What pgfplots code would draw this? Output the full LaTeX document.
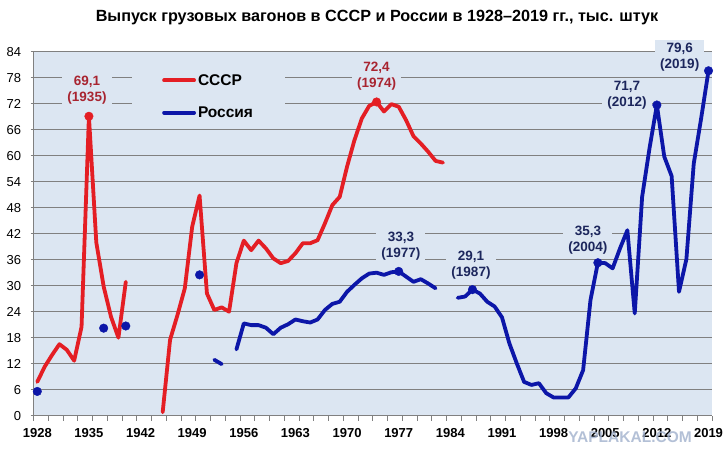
\documentclass[border=0pt]{standalone}
\usepackage{fontspec}
\setmainfont{Liberation Sans}
\usepackage{pgfplots}
\usepackage{pgfplotstable}
\pgfplotsset{compat=1.18}
\definecolor{plotbg}{RGB}{220,230,242}
\definecolor{ussr}{RGB}{228,30,36}
\definecolor{rus}{RGB}{12,22,168}
\definecolor{annred}{RGB}{168,36,48}
\definecolor{annblue}{RGB}{28,38,92}
\definecolor{gridc}{RGB}{128,128,128}
\definecolor{wm}{RGB}{160,176,204}

\pgfplotstableread{
year val
1928 7.8
1929 11.3
1930 14.0
1931 16.5
1932 15.2
1933 12.7
1934 20.5
1935 69.1
1936 40.0
1937 29.8
1938 22.8
1939 18.0
1940 30.9
1942 nan
1945 0.8
1946 17.5
1947 23.2
1948 29.4
1949 43.6
1950 50.8
1951 28.2
1952 24.4
1953 25.0
1954 24.0
1955 35.2
1956 40.4
1957 38.2
1958 40.4
1959 38.6
1960 36.3
1961 35.2
1962 35.7
1963 37.5
1964 39.8
1965 39.8
1966 40.5
1967 44.4
1968 48.6
1969 50.5
1970 57.5
1971 63.6
1972 68.6
1973 71.5
1974 72.4
1975 70.2
1976 71.9
1977 71.3
1978 68.2
1979 64.5
1980 62.8
1981 60.9
1982 58.8
1983 58.4
}\ussrtab

\pgfplotstableread{
year val
1928 5.6
1929 nan
1937 20.2
1938 nan
1940 20.7
1941 nan
1950 32.5
1951 nan
1952 12.9
1953 11.9
1954 nan
1955 15.3
1956 21.3
1957 20.9
1958 20.9
1959 20.3
1960 18.8
1961 20.3
1962 21.1
1963 22.2
1964 21.8
1965 21.5
1966 22.2
1967 24.4
1968 25.8
1969 26.3
1970 28.6
1971 30.2
1972 31.7
1973 32.8
1974 33.0
1975 32.5
1976 33.1
1977 33.3
1978 32.1
1979 30.9
1980 31.5
1981 30.5
1982 29.4
1983 nan
1985 27.2
1986 27.5
1987 29.1
1988 28.2
1989 26.3
1990 25.2
1991 22.7
1992 16.7
1993 12.1
1994 7.8
1995 7.1
1996 7.5
1997 5.2
1998 4.2
1999 4.2
2000 4.2
2001 6.3
2002 10.5
2003 26.7
2004 35.3
2005 35.2
2006 34.0
2007 38.6
2008 42.8
2009 23.6
2010 50.5
2011 61.7
2012 71.7
2013 59.8
2014 55.3
2015 28.6
2016 36.1
2017 58.2
2018 68.6
2019 79.6
}\rustab

\pgfplotstableread{
year val
1935 69.1
1974 72.4
}\ussrmarks

\pgfplotstableread{
year val
1928 5.6
1937 20.2
1940 20.7
1950 32.5
1977 33.3
1987 29.1
2004 35.3
2012 71.7
2019 79.6
}\rusmarks

\begin{document}
\begin{tikzpicture}[x=1pt,y=1pt]
\useasboundingbox (0,0) rectangle (728,468);
\node[font=\bfseries\fontsize{16.2}{19}\selectfont] at (377,450) {Выпуск грузовых вагонов в СССР и России в 1928–2019 гг., тыс. штук};
\begin{axis}[
  at={(33.6pt,52.3pt)}, anchor=south west,
  scale only axis, width=678.6pt, height=364pt,
  xmin=1927.5, xmax=2019.5, ymin=0, ymax=84,
  axis lines*=left,
  axis line style={draw=gridc, line width=0.9pt},
  axis background/.style={fill=plotbg},
  ytick={0,6,...,84},
  yticklabels={0,6,12,18,24,30,36,42,48,54,60,66,72,78,84},
  xtick={1928,1935,...,2019},
  xticklabels={1928,1935,1942,1949,1956,1963,1970,1977,1984,1991,1998,2005,2012,2019},
  minor xtick={1927.5,1929.5,...,2019.5},
  tick align=outside,
  major x tick style={draw=none},
  major tick length=3pt,
  minor tick length=5pt,
  tick style={draw=gridc, line width=0.9pt},
  ymajorgrids,
  grid style={draw=gridc, line width=0.9pt},
  xticklabel style={font=\bfseries\fontsize{13}{15}\selectfont, yshift=-6pt},
  yticklabel style={font=\fontsize{13}{15}\selectfont, xshift=-6pt},
  unbounded coords=jump,
  clip=false,
  legend style={at={(0.145,0.9607)}, anchor=north west, fill=plotbg, draw=none,
    inner xsep=30pt, inner ysep=6pt, row sep=16pt,
    font=\bfseries\fontsize{15.5}{18}\selectfont},
  legend cell align=left,
  legend image code/.code={\draw[#1, line width=3.8pt] (0pt,0pt) -- (30pt,0pt);},
]
\node[fill=plotbg, text=annred, font=\bfseries\fontsize{13.5}{16}\selectfont, align=center, inner xsep=5pt, inner ysep=3pt] at (axis cs:1934.74,75.05) {69,1\\(1935)};
\node[fill=plotbg, text=annred, font=\bfseries\fontsize{13.5}{16}\selectfont, align=center, inner xsep=5pt, inner ysep=3pt] at (axis cs:1974.0,78.3) {72,4\\(1974)};
\node[fill=plotbg, text=annblue, font=\bfseries\fontsize{13.5}{16}\selectfont, align=center, inner xsep=5pt, inner ysep=3pt] at (axis cs:1977.3,39.2) {33,3\\(1977)};
\node[fill=plotbg, text=annblue, font=\bfseries\fontsize{13.5}{16}\selectfont, align=center, inner xsep=5pt, inner ysep=2pt] at (axis cs:1986.8,34.8) {29,1\\(1987)};
\node[fill=plotbg, text=annblue, font=\bfseries\fontsize{13.5}{16}\selectfont, align=center, inner xsep=5pt, inner ysep=3pt] at (axis cs:2002.65,40.5) {35,3\\(2004)};
\node[fill=plotbg, text=annblue, font=\bfseries\fontsize{13.5}{16}\selectfont, align=center, inner xsep=5pt, inner ysep=3pt] at (axis cs:2007.95,73.9) {71,7\\(2012)};
\node[fill=plotbg, text=annblue, font=\bfseries\fontsize{13.5}{16}\selectfont, align=center, inner xsep=5pt, inner ysep=3pt] at (axis cs:2015.1,82.7) {79,6\\(2019)};
\addplot[ussr, line width=3.8pt, line join=round, line cap=round, mark=none] table[x=year,y=val] {\ussrtab};
\addlegendentry{СССР}
\addplot[rus, line width=3.8pt, line join=round, line cap=round, mark=none] table[x=year,y=val] {\rustab};
\addlegendentry{Россия}
\addplot[only marks, mark=*, mark size=4.3pt, color=ussr, forget plot] table[x=year,y=val] {\ussrmarks};
\addplot[only marks, mark=*, mark size=4.3pt, color=rus, forget plot] table[x=year,y=val] {\rusmarks};
\end{axis}
\node[font=\bfseries\fontsize{15.5}{18}\selectfont, text=wm, opacity=0.8] at (630,31) {YAPLAKAL.COM};
\end{tikzpicture}
\end{document}
